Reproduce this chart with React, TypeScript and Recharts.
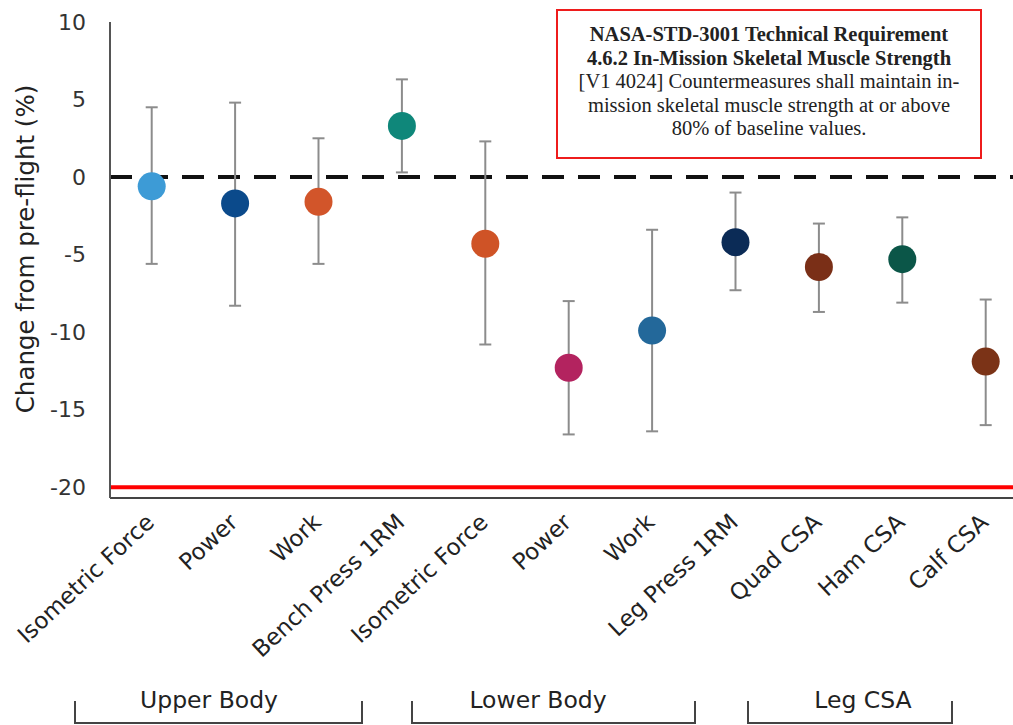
import { Cell, ComposedChart, ErrorBar, ReferenceLine, Scatter, XAxis, YAxis } from "recharts";

const categories = [
  "Isometric Force",
  "Power",
  "Work",
  "Bench Press 1RM",
  "Isometric Force",
  "Power",
  "Work",
  "Leg Press 1RM",
  "Quad CSA",
  "Ham CSA",
  "Calf CSA",
];
const means = [-0.6, -1.7, -1.6, 3.3, -4.3, -12.3, -9.9, -4.2, -5.8, -5.3, -11.9];
const upper = [4.5, 4.8, 2.5, 6.3, 2.3, -8.0, -3.4, -1.0, -3.0, -2.6, -7.9];
const lower = [-5.6, -8.3, -5.6, 0.3, -10.8, -16.6, -16.4, -7.3, -8.7, -8.1, -16.0];
const dotColors = [
  "#3d9bd6",
  "#0b4a8b",
  "#d2552a",
  "#0f877a",
  "#cf5326",
  "#b3235f",
  "#23689a",
  "#0b2b56",
  "#7a2f17",
  "#0b5648",
  "#7b3317",
];
const yTicks = [-20, -15, -10, -5, 0, 5, 10];

const groups = [
  { label: "Upper Body", left: 75, right: 362, textX: 209 },
  { label: "Lower Body", left: 412, right: 695, textX: 538 },
  { label: "Leg CSA", left: 748, right: 952, textX: 863 },
];

const requirement = [
  { text: "NASA-STD-3001 Technical Requirement", bold: true },
  { text: "4.6.2 In-Mission Skeletal Muscle Strength", bold: true },
  { text: "[V1 4024] Countermeasures shall maintain in-", bold: false },
  { text: "mission skeletal muscle strength at or above", bold: false },
  { text: "80% of baseline values.", bold: false },
];

// error bar wants [below, above] distances from the mean
const rows = categories.map((name, i) => ({
  name,
  mean: means[i],
  err: [means[i] - lower[i], upper[i] - means[i]],
}));

const FONT = "'DejaVu Sans', sans-serif";

function SlantTick({ x, y, payload }: any) {
  const ax = x + 4;
  const ay = y + 26;
  return (
    <text
      x={ax}
      y={ay}
      transform={`rotate(-43, ${ax}, ${ay})`}
      textAnchor="end"
      fontSize={23}
      fill="#222"
      fontFamily={FONT}
    >
      {payload.value}
    </text>
  );
}

function YLabel({ viewBox }: any) {
  const cx = (viewBox?.x ?? 0) + 25;
  const cy = (viewBox?.y ?? 0) + (viewBox?.height ?? 0) / 2 - 11;
  return (
    <text
      x={cx}
      y={cy}
      transform={`rotate(-90, ${cx}, ${cy})`}
      textAnchor="middle"
      dominantBaseline="central"
      fontSize={24.5}
      fill="#222"
      fontFamily={FONT}
    >
      Change from pre-flight (%)
    </text>
  );
}

function Dot(props: any) {
  return <circle cx={props.cx} cy={props.cy} r={14} fill={props.fill} />;
}

export default function App() {
  return (
    <div style={{ position: "relative", width: 1013, height: 725, overflow: "hidden", background: "#fff", fontFamily: FONT }}>
      <style>{"body{margin:0}"}</style>
      <ComposedChart width={1040} height={725} data={rows} margin={{ top: 22, right: 12.6, bottom: 0, left: 0 }}>
        <XAxis
          dataKey="name"
          type="category"
          allowDuplicatedCategory
          interval={0}
          height={227}
          padding={{ left: 41.7, right: 41.7 }}
          tickLine={false}
          tickSize={0}
          tickMargin={0}
          axisLine={{ stroke: "#444", strokeWidth: 2 }}
          tick={<SlantTick />}
        />
        <YAxis
          type="number"
          domain={[-20.7, 10]}
          ticks={yTicks}
          width={110}
          tickLine={false}
          tickSize={6}
          tickMargin={18}
          axisLine={{ stroke: "#555", strokeWidth: 2 }}
          tick={{ fill: "#333", fontSize: 22, fontFamily: FONT }}
          label={<YLabel />}
        />
        <ReferenceLine y={0} stroke="#111" strokeWidth={4} strokeDasharray="22 14" />
        <ReferenceLine y={-20} stroke="#ff0000" strokeWidth={4} />
        <Scatter dataKey="mean" shape={<Dot />} isAnimationActive={false}>
          <ErrorBar dataKey="err" direction="y" width={6} stroke="#8c8c8c" strokeWidth={2} />
          {rows.map((_, i) => (
            <Cell key={i} fill={dotColors[i]} />
          ))}
        </Scatter>
      </ComposedChart>

      <div
        style={{
          position: "absolute",
          left: 556,
          top: 9,
          width: 422,
          height: 135,
          border: "2px solid #ee1c1c",
          fontFamily: "'Liberation Serif', 'Times New Roman', serif",
          fontSize: 20.5,
          lineHeight: "24px",
          color: "#222",
          textAlign: "center",
          paddingTop: 11,
          boxSizing: "content-box",
        }}
      >
        {requirement.map((r, i) => (
          <div key={i} style={{ fontWeight: r.bold ? 700 : 400, whiteSpace: "nowrap", height: 23.5 }}>
            {r.text}
          </div>
        ))}
      </div>

      <svg style={{ position: "absolute", left: 0, top: 0 }} width={1013} height={725}>
        {groups.map((g) => (
          <g key={g.label}>
            <path
              d={`M${g.left},701 L${g.left},723 L${g.right},723 L${g.right},701`}
              fill="none"
              stroke="#444"
              strokeWidth={2}
            />
            <text x={g.textX} y={708} textAnchor="middle" fontSize={23.5} fill="#222" fontFamily={FONT}>
              {g.label}
            </text>
          </g>
        ))}
      </svg>
    </div>
  );
}
